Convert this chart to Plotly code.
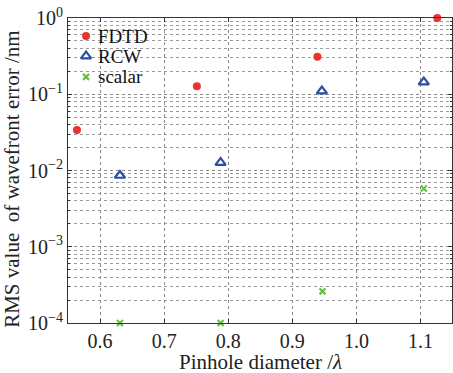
import plotly.graph_objects as go

fdtd_x = [0.564, 0.751, 0.939, 1.126]
fdtd_y = [0.034, 0.127, 0.31, 1.0]
rcw_x = [0.631, 0.788, 0.946, 1.105]
rcw_y = [0.0086, 0.0127, 0.11, 0.144]
scalar_x = [0.631, 0.788, 0.947, 1.105]
scalar_y = [1.0e-4, 1.0e-4, 2.6e-4, 0.0058]
series_names = ["FDTD", "RCW", "scalar"]

y_tickvals = [1e-4, 1e-3, 1e-2, 1e-1, 1]
y_ticktext = ["10<sup>−4</sup>", "10<sup>−3</sup>", "10<sup>−2</sup>", "10<sup>−1</sup>", "10<sup>0</sup>"]
x_tickvals = [0.6, 0.7, 0.8, 0.9, 1.0, 1.1]
x_ticktext = ["0.6", "0.7", "0.8", "0.9", "1.0", "1.1"]

FONT = "Liberation Serif, DejaVu Serif, serif"
RED, BLUE, GREEN = "#e8332f", "#2b4fa3", "#6bbf4b"

styles = [
    dict(symbol="circle", size=8, color=RED),
    dict(symbol="triangle-up-open", size=9, color=BLUE, line=dict(width=2.2, color=BLUE)),
    dict(symbol="x-thin-open", size=6, color=GREEN, line=dict(width=2.2, color=GREEN)),
]

fig = go.Figure()
for name, xs, ys, st in zip(series_names, [fdtd_x, rcw_x, scalar_x], [fdtd_y, rcw_y, scalar_y], styles):
    fig.add_trace(go.Scatter(x=xs, y=ys, mode="markers", name=name, marker=st,
                             cliponaxis=False, showlegend=False))

# manual legend (overlay axes in plot-fraction units)
leg_x_marker, leg_x_text = 0.047, 0.072
leg_rows = [0.941, 0.875, 0.807]
for name, st, ry in zip(series_names, styles, leg_rows):
    fig.add_trace(go.Scatter(x=[leg_x_marker], y=[ry], mode="markers", marker=st,
                             xaxis="x2", yaxis="y2", showlegend=False, hoverinfo="skip"))
    fig.add_annotation(x=leg_x_text, y=ry, xref="x2", yref="y2", text=name,
                       showarrow=False, xanchor="left", yanchor="middle",
                       font=dict(size=19, family=FONT, color="#111"))

# axis titles
fig.add_annotation(x=0.5, y=-0.128, xref="paper", yref="paper",
                   text="Pinhole diameter /<i>λ</i>", showarrow=False,
                   xanchor="center", yanchor="middle",
                   font=dict(size=21, family=FONT, color="#222"))
fig.add_annotation(x=-0.148, y=0.47, xref="paper", yref="paper",
                   text="RMS value  of wavefront error /nm", showarrow=False,
                   textangle=-90, xanchor="center", yanchor="middle",
                   font=dict(size=21, family=FONT, color="#222"))

fig.update_layout(
    width=453, height=373,
    margin=dict(l=68, r=1, t=18, b=50),
    paper_bgcolor="white", plot_bgcolor="white",
    font=dict(family=FONT, size=20, color="#222"),
    showlegend=False,
    xaxis2=dict(overlaying="x", range=[0, 1], visible=False, fixedrange=True),
    yaxis2=dict(overlaying="y", range=[0, 1], visible=False, fixedrange=True),
)
fig.update_layout(xaxis=dict(
    range=[0.55, 1.149], tickvals=x_tickvals, ticktext=x_ticktext,
    showline=True, linecolor="#333", linewidth=1, mirror="ticks",
    ticks="inside", ticklen=4, tickcolor="#333",
    showgrid=True, gridcolor="#888", griddash="dot", gridwidth=1,
    zeroline=False, tickfont=dict(size=20), ticklabelstandoff=0,
))
fig.update_layout(yaxis=dict(
    type="log", range=[-4, 0], tickvals=y_tickvals, ticktext=y_ticktext,
    showline=True, linecolor="#333", linewidth=1, mirror="ticks",
    ticks="inside", ticklen=4, tickcolor="#333",
    showgrid=True, gridcolor="#888", griddash="dot", gridwidth=1,
    minor=dict(dtick="D1", ticks="inside", ticklen=2, tickcolor="#333",
               showgrid=True, gridcolor="#999", griddash="dot", gridwidth=1),
    zeroline=False, tickfont=dict(size=20), ticklabeloverflow="allow",
))

fig.write_html("out.html", config={"displayModeBar": False},
               post_script="document.body.style.margin='0';")
